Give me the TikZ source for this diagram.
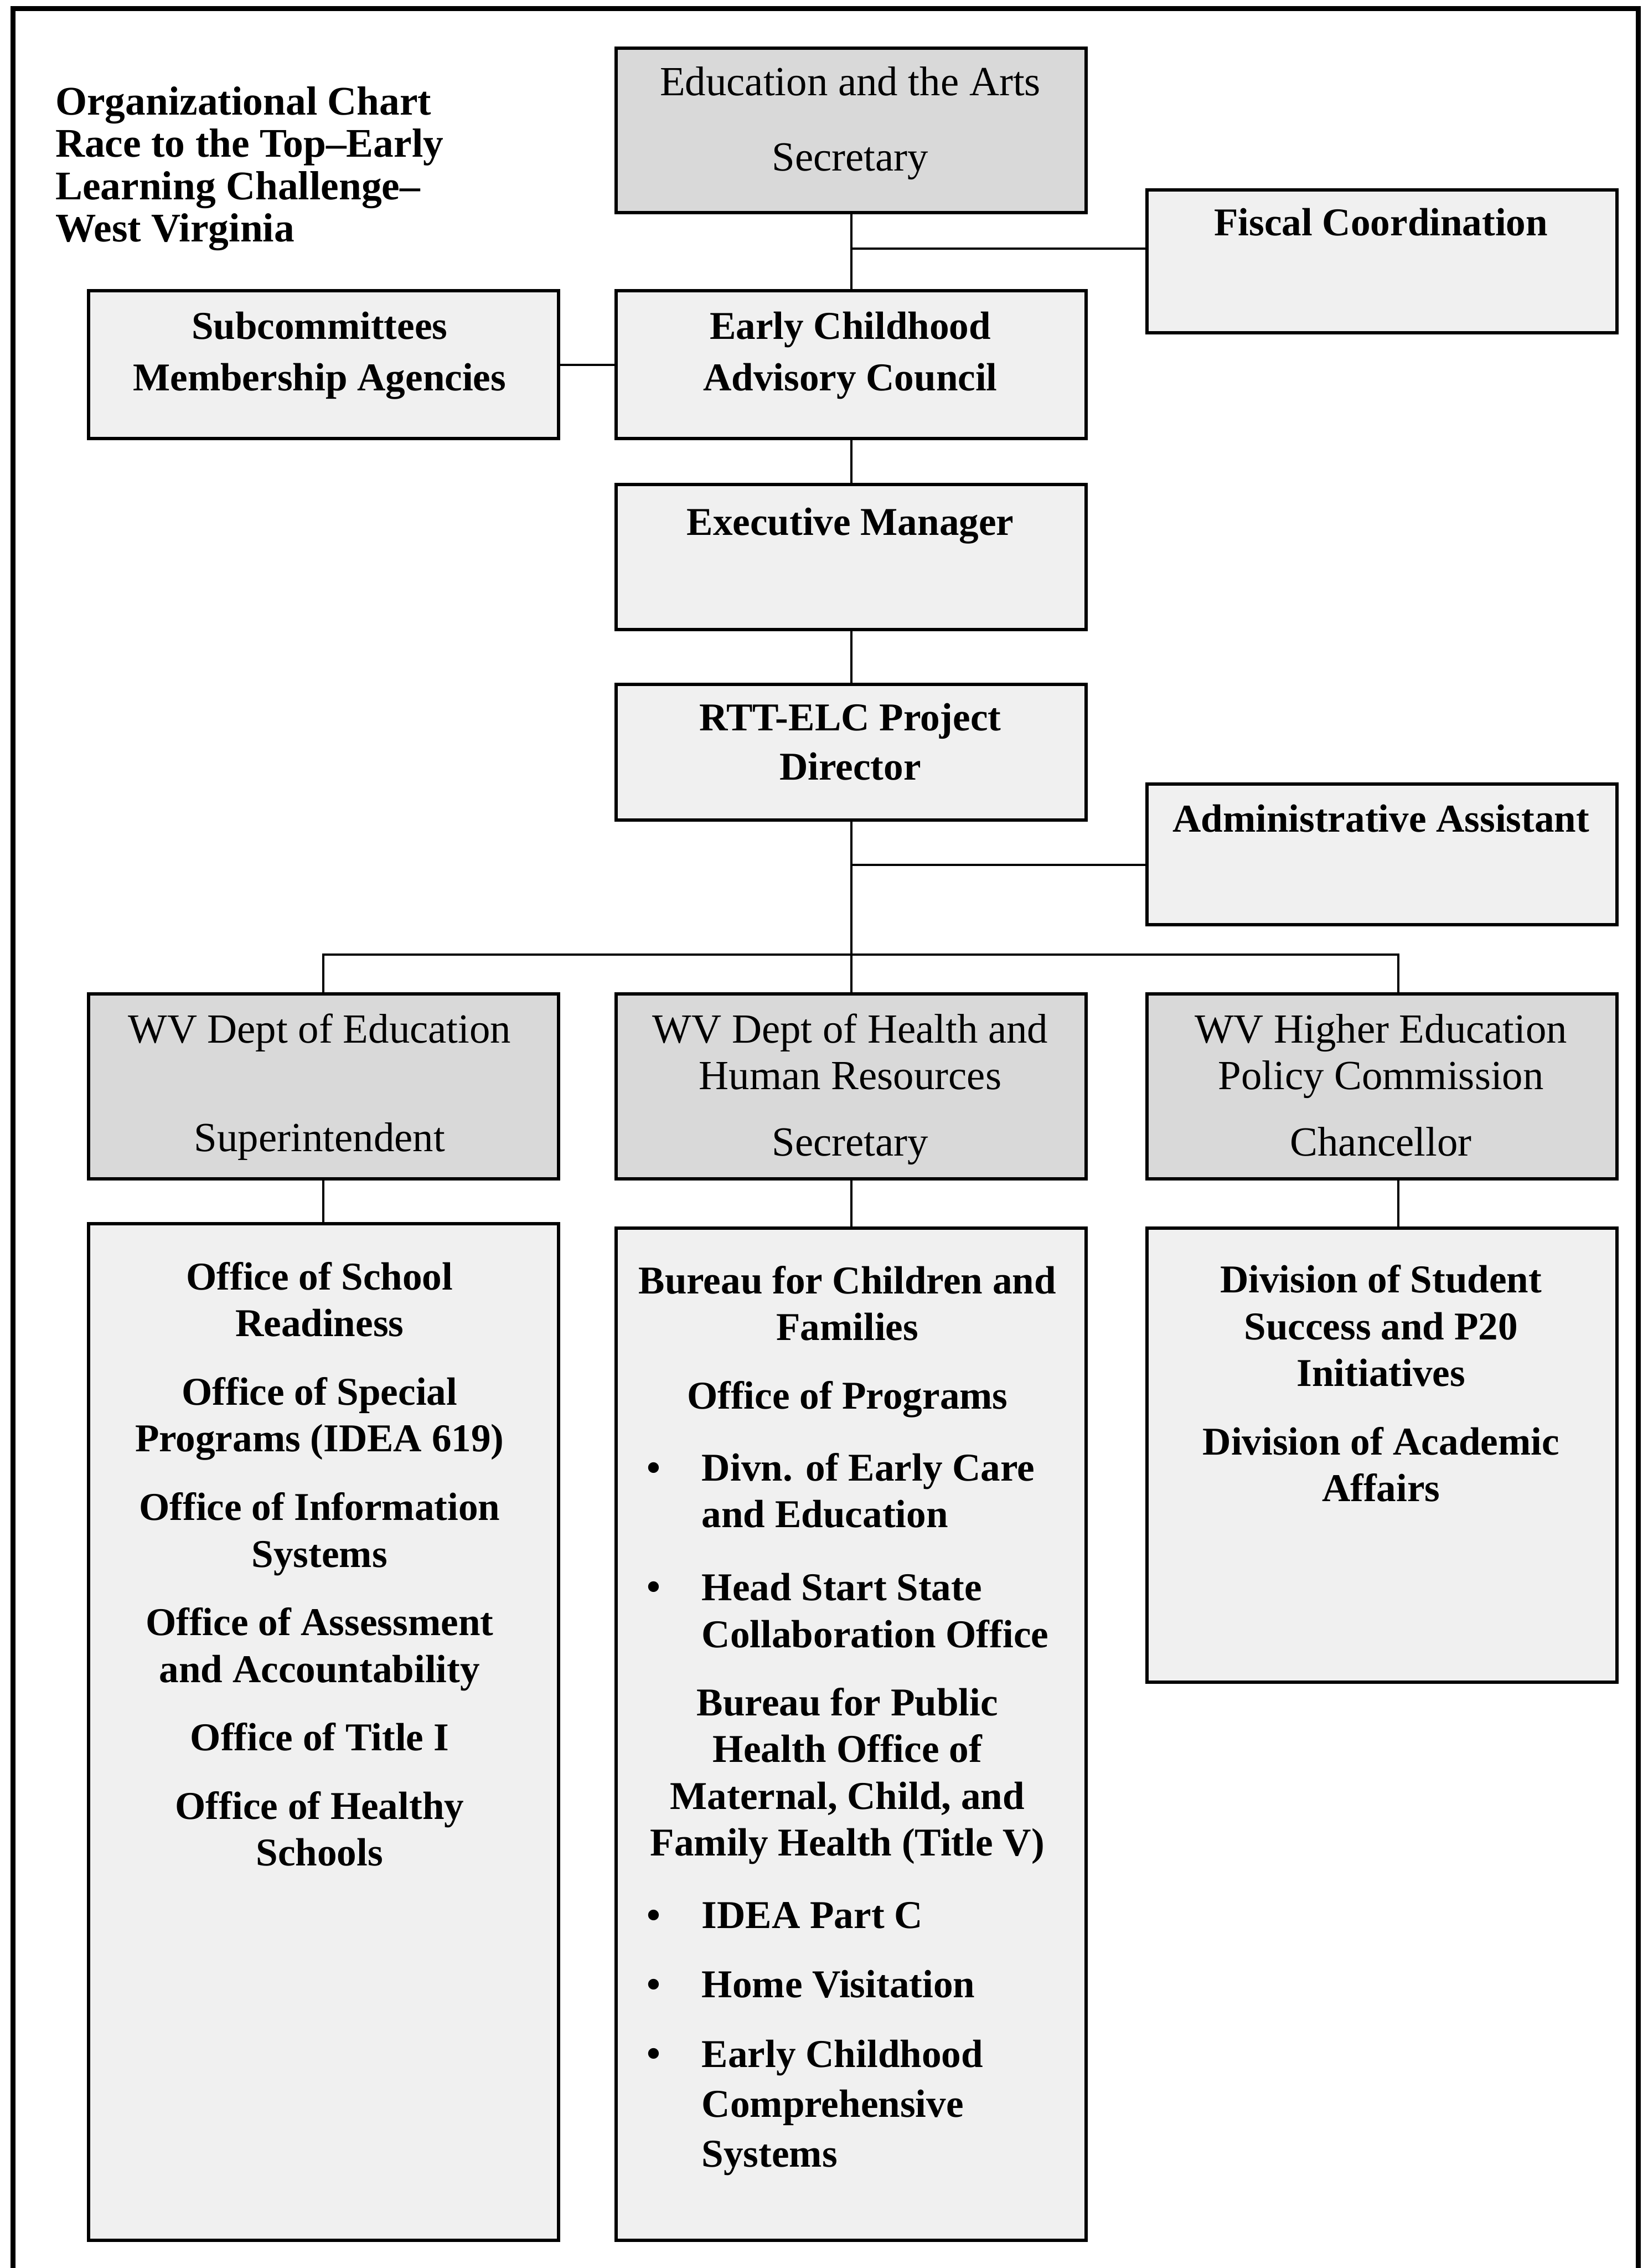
\documentclass[tikz,border=0pt]{standalone}
\usepackage{fontspec}
\setmainfont{Liberation Serif}
\usetikzlibrary{positioning}

\newcommand{\itemgap}{0.3cm}

\tikzset{
	orgbox/.style={draw=black, line width=1.3pt, fill=gray!12, anchor=north west, minimum width=6.5cm, inner sep=0pt},
	headbox/.style={orgbox, fill=gray!30},
	lbl/.style={anchor=base, align=center, inner sep=0pt, font=\fontsize{15.5}{18.4}\selectfont\bfseries},
	hlbl/.style={lbl, font=\fontsize{16.3}{18.4}\selectfont},
	bltxt/.style={lbl, anchor=base west, align=left},
	link/.style={line width=0.9pt},
}

\begin{document}
\begin{tikzpicture}[x=0.02cm, y=-0.02cm]
				\useasboundingbox (0,0) rectangle (1136,1568);
				\draw[line width=2pt] (9,1570) -- (9,6) -- (1133,6) -- (1133,1570);
				\node[anchor=base west, align=left, inner sep=0pt, font=\fontsize{16}{16.6}\selectfont\bfseries] (title) at (38,167)
					{Organizational Chart\\Race to the Top--Early\\Learning Challenge--\\West Virginia};

				\node[headbox, minimum height=2.28cm] (edu)   at (425,32)  {};
				\node[orgbox,  minimum height=1.98cm] (fisc)  at (792,130) {};
				\node[orgbox,  minimum height=2.04cm] (subc)  at (60,200)  {};
				\node[orgbox,  minimum height=2.04cm] (ecac)  at (425,200) {};
				\node[orgbox,  minimum height=2cm]    (exec)  at (425,334) {};
				\node[orgbox,  minimum height=1.88cm] (rtt)   at (425,472) {};
				\node[orgbox,  minimum height=1.94cm] (admin) at (792,541) {};
				\node[headbox, minimum height=2.56cm] (wved)  at (60,686)  {};
				\node[headbox, minimum height=2.56cm] (wvhhr) at (425,686) {};
				\node[headbox, minimum height=2.56cm] (wvhe)  at (792,686) {};
				\node[orgbox,  minimum height=14.06cm] (ofc)  at (60,845)  {};
				\node[orgbox,  minimum height=14cm]   (bur)   at (425,848) {};
				\node[orgbox,  minimum height=6.28cm] (div)   at (792,848) {};

				\coordinate (fj) at (587.5,172);
				\coordinate (aj) at (587.5,598);
				\coordinate (bus) at (587.5,660);
				\coordinate (hedrop) at (967,660);
				\draw[link] (edu.south) -- (ecac.north);
				\draw[link] (fj -| edu.south) -- (fj -| fisc.west);
				\draw[link] (subc.east) -- (ecac.west);
				\draw[link] (ecac.south) -- (exec.north);
				\draw[link] (exec.south) -- (rtt.north);
				\draw[link] (rtt.south) -- (rtt.south |- bus);
				\draw[link] (aj -| rtt.south) -- (aj -| admin.west);
				\draw[link] (wved.north) -- (wved.north |- bus) -- (hedrop) -- (hedrop |- wvhe.north);
				\draw[link] (wvhhr.north |- bus) -- (wvhhr.north);
				\draw[link] (wved.south) -- (ofc.north);
				\draw[link] (wvhhr.south) -- (bur.north);
				\draw[link] (wvhe.south -| hedrop) -- (div.north -| hedrop);

				\node[hlbl] (edutxt) at (588,118) {Education and the Arts\\[0.39cm]Secretary};
				\node[lbl] (fisctxt) at (955,163) {Fiscal Coordination};
				\node[lbl, font=\fontsize{15.5}{20.2}\selectfont\bfseries] (subctxt) at (221,270) {Subcommittees\\Membership Agencies};
				\node[lbl, font=\fontsize{15.5}{20.2}\selectfont\bfseries] (ecactxt) at (588,270) {Early Childhood\\Advisory Council};
				\node[lbl] (exectxt) at (588,370) {Executive Manager};
				\node[lbl, font=\fontsize{15.5}{19.3}\selectfont\bfseries] (rtttxt) at (588,539) {RTT-ELC Project\\Director};
				\node[lbl] (admintxt) at (955,575) {Administrative Assistant};

				\node[hlbl] (wvedtxt) at (221,796) {WV Dept of Education\\[0.85cm]Superintendent};
				\node[hlbl] (wvhhrtxt) at (588,799) {WV Dept of Health and\\Human Resources\\[0.27cm]Secretary};
				\node[hlbl] (wvhetxt) at (955,799) {WV Higher Education\\Policy Commission\\[0.27cm]Chancellor};

				\node[lbl] (ofctxt) at (221,1290) {Office of School\\Readiness\\[\itemgap]Office of Special\\Programs (IDEA 619)\\[\itemgap]Office of Information\\Systems\\[\itemgap]Office of Assessment\\and Accountability\\[\itemgap]Office of Title I\\[\itemgap]Office of Healthy\\Schools};

				\node[lbl] (burtxt) at (586,974) {Bureau for Children and\\Families\\[\itemgap]Office of Programs};
				\node[lbl] (bul1) at (452,1024) {\textbullet};
				\node[bltxt] (divn) at (485,1056) {Divn. of Early Care\\and Education};
				\node[lbl] (bul2) at (452,1106) {\textbullet};
				\node[bltxt] (hsso) at (485,1139) {Head Start State\\Collaboration Office};
				\node[lbl] (bphtxt) at (586,1283) {Bureau for Public\\Health Office of\\Maternal, Child, and\\Family Health (Title V)};
				\node[lbl] (bul3) at (452,1333) {\textbullet};
				\node[bltxt] (idea) at (485,1333) {IDEA Part C};
				\node[lbl] (bul4) at (452,1381) {\textbullet};
				\node[bltxt] (home) at (485,1381) {Home Visitation};
				\node[lbl] (bul5) at (452,1429) {\textbullet};
				\node[bltxt, font=\fontsize{15.5}{19.6}\selectfont\bfseries] (eccs) at (485,1498) {Early Childhood\\Comprehensive\\Systems};

				\node[lbl] (divtxt) at (955,1038) {Division of Student\\Success and P20\\Initiatives\\[\itemgap]Division of Academic\\Affairs};
			\end{tikzpicture}
\end{document}
